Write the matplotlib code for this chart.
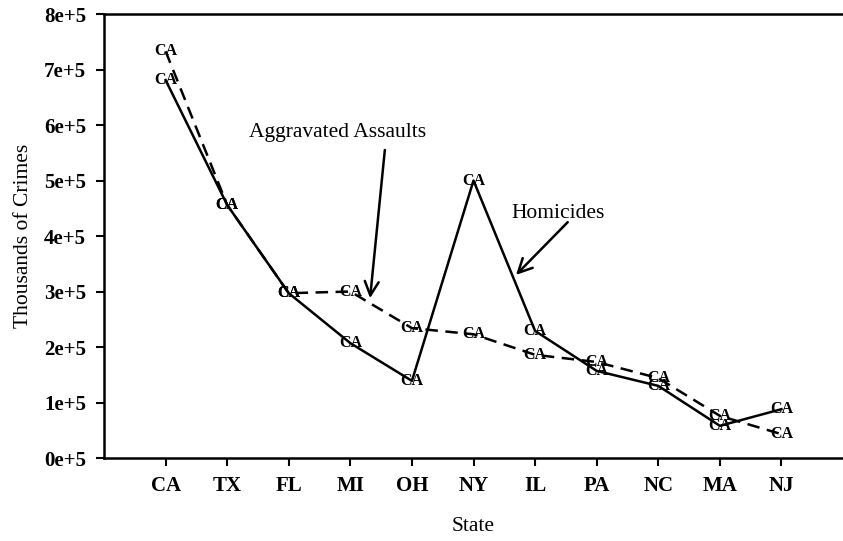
import matplotlib.pyplot as plt

states = ['CA', 'TX', 'FL', 'MI', 'OH', 'NY', 'IL', 'PA', 'NC', 'MA', 'NJ']
homicides = [6.81e5, 4.56e5, 2.97e5, 2.07e5, 1.39e5, 5.0e5, 2.29e5, 1.57e5, 1.30e5, 0.58e5, 0.88e5]
assaults = [7.33e5, 4.56e5, 2.97e5, 3.0e5, 2.34e5, 2.23e5, 1.86e5, 1.73e5, 1.44e5, 0.76e5, 0.43e5]
yticks = [0, 1e5, 2e5, 3e5, 4e5, 5e5, 6e5, 7e5, 8e5]
ylabels = ['0e+5', '1e+5', '2e+5', '3e+5', '4e+5', '5e+5', '6e+5', '7e+5', '8e+5']

plt.rcParams['font.family'] = ['Liberation Serif', 'DejaVu Serif']

fig = plt.figure(figsize=(8.43, 5.41), dpi=100)
ax = fig.add_axes([0.1234, 0.1534, 0.8766, 0.8206])
xs = list(range(1, len(states) + 1))

ax.plot(xs, homicides, color='black', lw=1.8)
ax.plot(xs, assaults, color='black', lw=1.8, ls=(0, (5, 3)))
for x, h, a in zip(xs, homicides, assaults):
    ax.text(x, h, 'CA', ha='center', va='center', fontsize=11.5, fontweight='semibold')
    ax.text(x, a, 'CA', ha='center', va='center', fontsize=11.5, fontweight='semibold')

# labels and arrows
ax.text(3.80, 5.86e5, 'Aggravated Assaults', ha='center', va='center', fontsize=15.5)
ax.annotate('', xy=(4.32, 2.88e5), xytext=(4.56, 5.55e5),
            arrowprops=dict(arrowstyle='->', color='black', lw=1.8,
                            mutation_scale=25, shrinkA=0, shrinkB=0))
ax.text(7.37, 4.41e5, 'Homicides', ha='center', va='center', fontsize=15.5)
ax.annotate('', xy=(6.69, 3.30e5), xytext=(7.53, 4.25e5),
            arrowprops=dict(arrowstyle='->', color='black', lw=1.8,
                            mutation_scale=25, shrinkA=0, shrinkB=0))

ax.set_xlim(0, 12)
ax.set_ylim(0, 8e5)
ax.set_xticks(xs)
ax.set_xticklabels(states, fontsize=15, fontweight='bold')
ax.set_yticks(yticks)
ax.set_yticklabels(ylabels, fontsize=15, fontweight='bold')
ax.tick_params(direction='out', length=6, width=1.5, pad=7)
ax.spines['right'].set_visible(False)
for s in ['left', 'top', 'bottom']:
    ax.spines[s].set_linewidth(1.8)
ax.set_xlabel('State', fontsize=15.5, labelpad=15)
ax.set_ylabel('Thousands of Crimes', fontsize=15.5, labelpad=8)

fig.savefig('out.png', dpi=100)
